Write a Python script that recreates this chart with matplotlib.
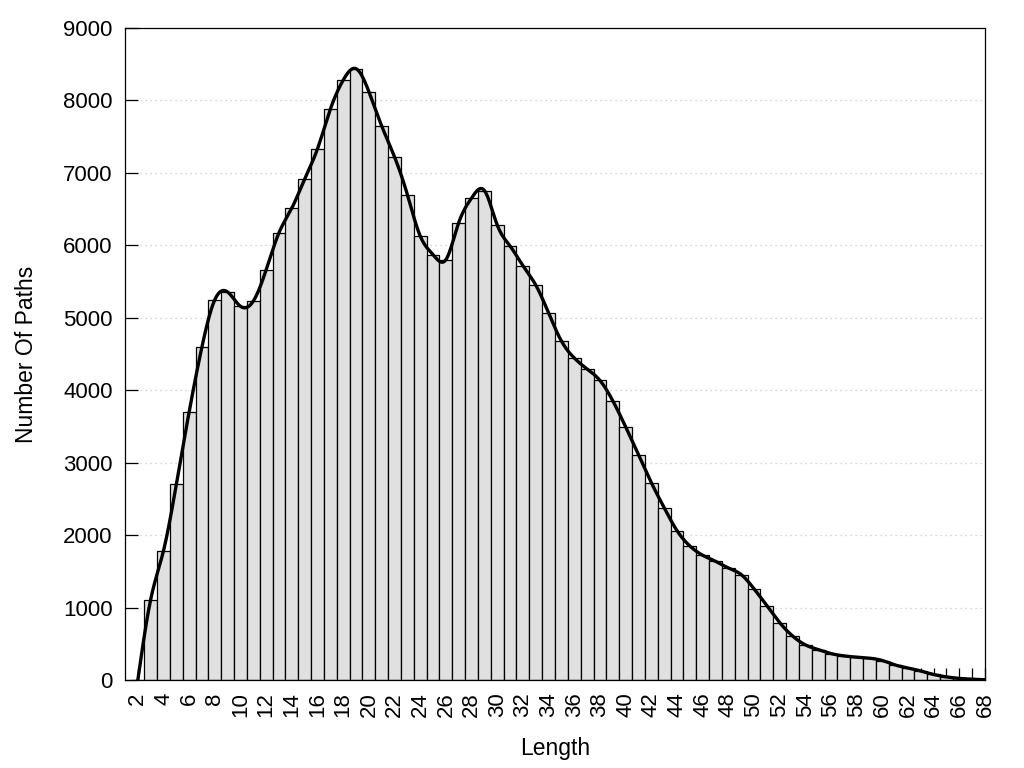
import numpy as np
import matplotlib
matplotlib.use("Agg")
import matplotlib.pyplot as plt

plt.rcParams['font.family'] = ['Liberation Sans', 'DejaVu Sans']

# ---- data ----
lengths = list(range(2, 69))
counts = [0, 1111, 1785, 2700, 3703, 4603, 5250, 5355, 5158, 5231,
          5664, 6175, 6515, 6915, 7334, 7881, 8281, 8438, 8121, 7646,
          7220, 6699, 6128, 5871, 5802, 6313, 6653, 6756, 6280, 5990,
          5720, 5452, 5066, 4679, 4445, 4293, 4135, 3855, 3496, 3111,
          2725, 2380, 2063, 1851, 1722, 1639, 1547, 1456, 1260, 1028,
          793, 609, 485, 420, 365, 333, 315, 301, 269, 207,
          167, 124, 76, 43, 22, 11, 3]
xtick_labels = [str(v) if v % 2 == 0 else "" for v in lengths]
y_ticks = list(range(0, 9001, 1000))


def natural_cubic_spline(x, y, xs):
    x = np.asarray(x, float)
    y = np.asarray(y, float)
    n = len(x)
    h = np.diff(x)
    A = np.zeros((n, n))
    b = np.zeros(n)
    A[0, 0] = 1.0
    A[-1, -1] = 1.0
    for i in range(1, n - 1):
        A[i, i - 1] = h[i - 1]
        A[i, i] = 2 * (h[i - 1] + h[i])
        A[i, i + 1] = h[i]
        b[i] = 3 * ((y[i + 1] - y[i]) / h[i] - (y[i] - y[i - 1]) / h[i - 1])
    c = np.linalg.solve(A, b)
    bb = (y[1:] - y[:-1]) / h - h * (2 * c[:-1] + c[1:]) / 3
    d = (c[1:] - c[:-1]) / (3 * h)
    idx = np.clip(np.searchsorted(x, xs) - 1, 0, n - 2)
    dx = xs - x[idx]
    return y[idx] + bb[idx] * dx + c[idx] * dx ** 2 + d[idx] * dx ** 3


fig = plt.figure(figsize=(10.24, 7.68), dpi=100)
ax = fig.add_axes([125 / 1024, 1 - 680 / 768, 860 / 1024, 652 / 768])
ax.set_axisbelow(True)

ax.bar(lengths, counts, width=1.0, color='#e0e0e0', edgecolor='black',
       linewidth=0.9, zorder=2)

xs = np.linspace(lengths[0], lengths[-1], 2000)
ys = natural_cubic_spline(lengths, counts, xs)
ax.plot(xs, ys, color='black', linewidth=2.4, zorder=3)

ax.set_xlim(1, 68)
ax.set_ylim(0, 9000)
ax.set_xticks(lengths)
ax.set_xticklabels(xtick_labels, rotation=90, fontsize=16)
ax.set_yticks(y_ticks)
ax.set_yticklabels([str(v) for v in y_ticks], fontsize=16)
ax.tick_params(axis='both', direction='in', length=9, width=0.9, pad=9,
               top=False, right=False)
ax.yaxis.grid(True, linestyle=(0, (1, 3)), color='#c8c8c8', linewidth=0.9)

for s in ax.spines.values():
    s.set_linewidth(0.9)
    s.set_zorder(4)

ax.set_xlabel('Length', fontsize=16.5, labelpad=14)
ax.set_ylabel('Number Of Paths', fontsize=16.5, labelpad=18)

fig.savefig('out.png', dpi=100)
